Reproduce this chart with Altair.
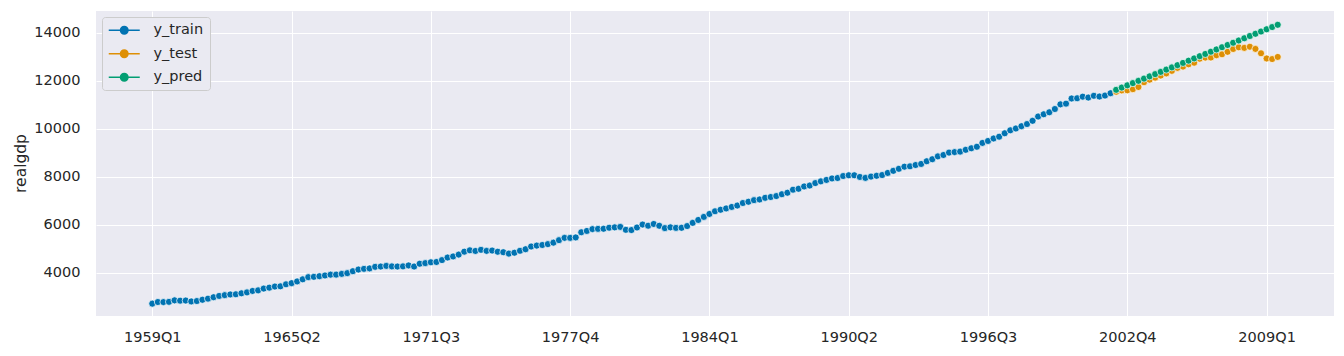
import altair as alt
import pandas as pd

# realgdp, quarterly from 1959Q1
y_train = [
    2710.349, 2778.801, 2775.488, 2785.204,
    2847.699, 2834.390, 2839.022, 2802.616,
    2819.264, 2872.005, 2918.419, 2977.830,
    3031.241, 3064.709, 3093.047, 3100.563,
    3141.087, 3180.447, 3240.332, 3264.967,
    3338.246, 3376.587, 3422.469, 3431.957,
    3516.251, 3563.960, 3636.285, 3724.014,
    3815.423, 3828.124, 3853.301, 3884.520,
    3918.740, 3919.556, 3950.826, 3980.970,
    4063.013, 4131.152, 4160.192, 4178.293,
    4244.100, 4256.460, 4283.378, 4263.261,
    4256.573, 4264.289, 4302.259, 4256.637,
    4374.016, 4398.829, 4433.943, 4446.264,
    4525.769, 4633.101, 4677.503, 4754.546,
    4876.166, 4932.571, 4906.252, 4953.050,
    4909.617, 4922.188, 4873.520, 4854.340,
    4795.295, 4831.942, 4913.328, 4977.511,
    5090.663, 5128.947, 5154.072, 5191.499,
    5251.762, 5356.131, 5451.921, 5450.793,
    5469.405, 5684.569, 5740.300, 5816.222,
    5825.949, 5831.418, 5873.335, 5889.495,
    5908.467, 5787.373, 5776.617, 5883.760,
    6005.717, 5957.795, 6030.184, 5955.062,
    5857.333, 5889.074, 5866.370, 5871.001,
    5944.020, 6077.619, 6197.468, 6325.574,
    6448.264, 6559.594, 6623.343, 6677.264,
    6740.275, 6797.344, 6903.523, 6955.918,
    7022.757, 7050.969, 7118.950, 7153.359,
    7193.019, 7269.510, 7332.558, 7458.022,
    7496.600, 7592.881, 7632.082, 7733.991,
    7806.603, 7865.016, 7927.393, 7944.697,
    8027.693, 8059.598, 8059.476, 7988.864,
    7950.164, 8003.822, 8037.538, 8069.604,
    8157.616, 8244.294, 8329.361, 8417.016,
    8432.485, 8486.435, 8531.108, 8643.769,
    8727.919, 8847.303, 8904.289, 9003.180,
    9025.267, 9044.668, 9120.684, 9184.275,
    9247.188, 9407.052, 9488.879, 9592.458,
    9666.235, 9809.551, 9932.672, 10008.874,
    10103.425, 10194.277, 10328.787, 10507.575,
    10601.179, 10684.049, 10819.914, 11014.250,
    11043.044, 11258.454, 11267.867, 11334.544,
    11297.171, 11371.251, 11340.075, 11380.128,
    11477.868,
]

y_test = [
    11538.783, 11596.430, 11598.824,
    11645.819, 11738.706, 11935.461, 12042.817,
    12127.623, 12213.818, 12303.533, 12410.282,
    12534.113, 12587.535, 12683.153, 12748.699,
    12915.938, 12962.462, 12965.916, 13060.679,
    13099.901, 13203.977, 13321.109, 13391.249,
    13366.865, 13415.266, 13324.600, 13141.920,
    12925.410, 12901.504, 12990.341,
]

y_pred = [
    11620, 11713, 11807,
    11900, 11994, 12087, 12180,
    12274, 12367, 12461, 12554,
    12647, 12741, 12834, 12928,
    13021, 13114, 13208, 13301,
    13395, 13488, 13581, 13675,
    13768, 13862, 13955, 14048,
    14142, 14235, 14329,
]

series_names = ["y_train", "y_test", "y_pred"]
series_colors = ["#0173b2", "#de8f05", "#029e73"]

tick_positions = [0, 25, 50, 75, 100, 125, 150, 175, 200]
tick_labels = ["1959Q1", "1965Q2", "1971Q3", "1977Q4", "1984Q1",
               "1990Q2", "1996Q3", "2002Q4", "2009Q1"]

y_ticks = [4000, 6000, 8000, 10000, 12000, 14000]

n_train = len(y_train)
rows = []
for i, v in enumerate(y_train):
    rows.append({"idx": i, "value": v, "series": "y_train"})
for i, v in enumerate(y_test):
    rows.append({"idx": n_train + i, "value": v, "series": "y_test"})
for i, v in enumerate(y_pred):
    rows.append({"idx": n_train + i, "value": v, "series": "y_pred"})
df = pd.DataFrame(rows)

label_expr = " : ".join(
    f"datum.value == {p} ? '{l}'" for p, l in zip(tick_positions, tick_labels)
) + " : ''"

x_enc = alt.X(
    "idx:Q",
    scale=alt.Scale(domain=[-10.1, 212.1], nice=False, zero=False),
    axis=alt.Axis(values=tick_positions, labelExpr=label_expr, title=None,
                  labelPadding=14, labelFontSize=14.5, labelFont="DejaVu Sans"),
)
y_enc = alt.Y(
    "value:Q",
    scale=alt.Scale(domain=[2196, 14904], nice=False, zero=False),
    axis=alt.Axis(values=y_ticks, format="d", title="realgdp", labelPadding=16,
                  labelFontSize=14.5, labelFont="DejaVu Sans",
                  titleFontSize=15.5, titleFont="DejaVu Sans",
                  titleX=-76, titleY=152, titleAngle=270, titleAlign="center",
                  titleBaseline="middle"),
)
color_enc = alt.Color(
    "series:N",
    scale=alt.Scale(domain=series_names, range=series_colors),
    sort=series_names,
    legend=alt.Legend(
        title=None,
        orient="top-left",
        offset=6,
        symbolType="M-3.1,0L3.1,0M-0.75,0A0.75,0.75,0,1,1,0.75,0A0.75,0.75,0,1,1,-0.75,0",
        symbolSize=100,
        symbolStrokeWidth=1.5,
        symbolOpacity=1,
        symbolOffset=9,
        labelOffset=22,
        labelFontSize=14.5,
        labelColor="#262626",
        labelFont="DejaVu Sans",
        padding=6,
        rowPadding=8.5,
        fillColor="#eaeaf2",
        strokeColor="#cccccc",
        cornerRadius=3,
    ),
)

layers = []
for name in series_names:
    layers.append(
        alt.Chart(df)
        .transform_filter(alt.datum.series == name)
        .mark_line(
            strokeWidth=1.5,
            point=alt.OverlayMarkDef(filled=True, size=50, stroke="white",
                                     strokeWidth=0.7, opacity=1),
        )
        .encode(x=x_enc, y=y_enc, color=color_enc, order="idx:Q")
    )

chart = (
    alt.layer(*layers)
    .properties(
        width=1238,
        height=305,
        autosize=alt.AutoSizeParams(type="none"),
        padding={"left": 88, "top": 3, "right": 2, "bottom": 30},
        background="white",
    )
    .configure_view(fill="#eaeaf2", stroke=None)
    .configure_axis(
        domain=False,
        ticks=False,
        grid=True,
        gridColor="white",
        gridWidth=1,
        labelColor="#262626",
        titleFontWeight="normal",
        titleColor="#262626",
    )
)

chart.save("out.html", embed_options={"renderer": "svg", "actions": False})
